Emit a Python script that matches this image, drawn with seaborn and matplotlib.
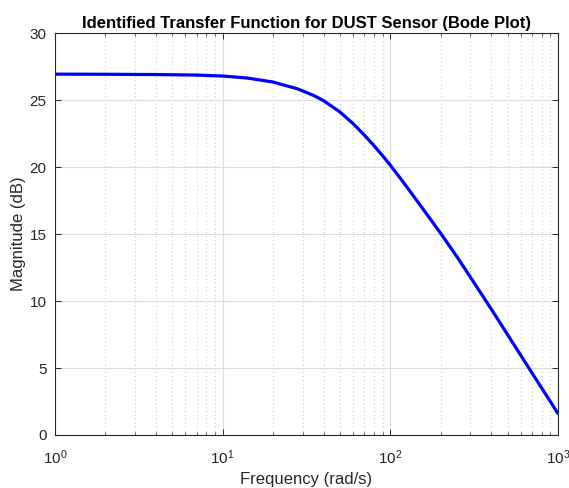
import matplotlib
matplotlib.use("Agg")
import matplotlib.pyplot as plt
import matplotlib.ticker as mticker
import seaborn as sns
import pandas as pd

# Values
freq_rad_s = [1, 2, 4, 7, 10, 14, 20, 28, 35, 40, 50, 60, 70, 80, 90, 100,
              120, 150, 200, 250, 300, 400, 500, 600, 700, 800, 900, 1000]
magnitude_db = [26.95, 26.94, 26.92, 26.88, 26.81, 26.66, 26.36, 25.85, 25.35,
                24.97, 24.13, 23.25, 22.4, 21.6, 20.85, 20.15, 18.85, 17.2,
                15.05, 13.3, 11.8, 9.4, 7.5, 5.95, 4.63, 3.5, 2.5, 1.6]
y_ticks = [0, 5, 10, 15, 20, 25, 30]
title_text = "Identified Transfer Function for DUST Sensor (Bode Plot)"
x_label = "Frequency (rad/s)"
y_label = "Magnitude (dB)"

sns.set_style("white")
plt.rcParams["font.family"] = ["Liberation Sans", "DejaVu Sans"]
plt.rcParams["mathtext.fontset"] = "custom"
plt.rcParams["mathtext.rm"] = "Liberation Sans"
plt.rcParams["mathtext.it"] = "Liberation Sans:italic"
plt.rcParams["mathtext.bf"] = "Liberation Sans:bold"

df = pd.DataFrame({"freq": freq_rad_s, "mag": magnitude_db})

fig = plt.figure(figsize=(5.69, 4.88), dpi=100)
ax = fig.add_axes([55 / 569, 1 - 435 / 488, (558 - 55) / 569, (435 - 33.3) / 488])

sns.lineplot(data=df, x="freq", y="mag", ax=ax, color="#0000ff", linewidth=2.3,
             sort=True, estimator=None)

ax.set_xscale("log")
ax.set_xlim(1, 1000)
ax.set_ylim(0, 30)
ax.set_yticks(y_ticks)
ax.xaxis.set_major_locator(mticker.LogLocator(base=10, numticks=10))
ax.xaxis.set_minor_locator(mticker.LogLocator(base=10, subs=range(2, 10), numticks=20))
ax.xaxis.set_minor_formatter(mticker.NullFormatter())

ax.grid(True, which="major", axis="both", color="#dcdcdc", linewidth=0.8, linestyle="-")
ax.grid(True, which="minor", axis="x", color="#cccccc", linewidth=0.8, linestyle=(0, (1, 2.5)))
ax.set_axisbelow(True)

spine_col = "#262626"
for s in ax.spines.values():
    s.set_visible(True)
    s.set_color(spine_col)
    s.set_linewidth(0.8)

ax.tick_params(which="both", direction="in", top=True, right=True, bottom=True, left=True,
               colors=spine_col, labelcolor=spine_col)
ax.tick_params(which="major", length=4, width=0.7, labelsize=11)
ax.tick_params(which="minor", length=2, width=0.5)
ax.tick_params(axis="x", which="major", pad=10)
ax.tick_params(axis="y", which="major", pad=6)

ax.set_title(title_text, fontsize=12, fontweight="bold", color="black", pad=4)
ax.set_xlabel(x_label, fontsize=12, color=spine_col, labelpad=3)
ax.set_ylabel(y_label, fontsize=12, color=spine_col, labelpad=3)

fig.savefig("out.png", dpi=100)
